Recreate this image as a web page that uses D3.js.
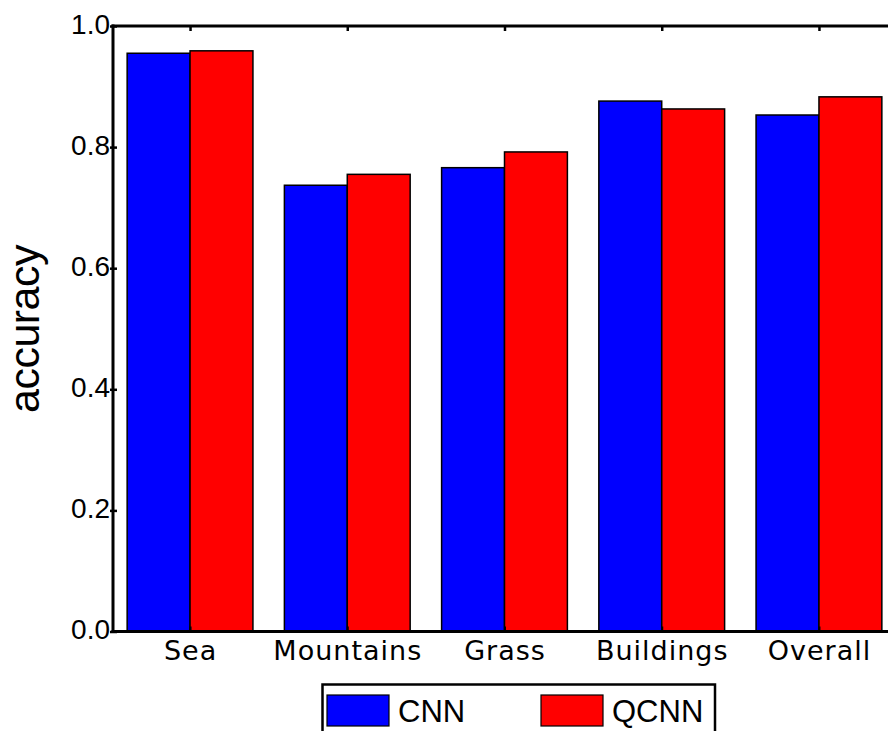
<!DOCTYPE html>
<html>
<head>
<meta charset="utf-8">
<script src="https://cdn.jsdelivr.net/npm/d3@7"></script>
<style>
  html, body { margin: 0; padding: 0; background: #fff; }
  svg { display: block; }
</style>
</head>
<body>
<svg id="chart" width="888" height="731"></svg>
<script>
// Classification accuracy per scene category, CNN vs QCNN
const categories = ["Sea", "Mountains", "Grass", "Buildings", "Overall"];
const cnnAccuracy = [0.955, 0.737, 0.766, 0.876, 0.853];
const qcnnAccuracy = [0.959, 0.755, 0.792, 0.863, 0.883];
const seriesNames = ["CNN", "QCNN"];
const seriesColors = ["#0000ff", "#ff0000"];
const yTickValues = [0.0, 0.2, 0.4, 0.6, 0.8, 1.0];

(function () {
  const svg = d3.select("#chart");

  // plot frame
  const plotLeft = 113, plotTop = 26, plotBottom = 631.5, plotRight = 896;
  const barWidth = 0.4;

  const x = d3.scaleLinear().domain([-0.49, categories.length - 0.51]).range([plotLeft, plotRight]);
  const y = d3.scaleLinear().domain([0, 1]).range([plotBottom, plotTop]);

  const series = [cnnAccuracy, qcnnAccuracy];

  // bars
  const g = svg.append("g");
  series.forEach((vals, s) => {
    g.selectAll(null)
      .data(vals)
      .enter()
      .append("rect")
      .attr("x", (d, i) => x(i + (s - 1) * barWidth))
      .attr("width", (d, i) => x(i + s * barWidth) - x(i + (s - 1) * barWidth))
      .attr("y", d => y(d))
      .attr("height", d => y(0) - y(d))
      .attr("fill", seriesColors[s])
      .attr("stroke", "#000")
      .attr("stroke-width", 1.5);
  });

  // left axis: ticks and labels
  const yAxis = d3.axisLeft(y)
    .tickValues(yTickValues)
    .tickSize(0)
    .tickPadding(0)
    .tickFormat(d3.format(".1f"));

  const yAxisG = svg.append("g").attr("transform", `translate(${plotLeft},0)`).call(yAxis);
  yAxisG.select(".domain").remove();
  yAxisG.selectAll(".tick text")
    .attr("x", -3)
    .attr("dy", null)
    .attr("y", 7)
    .attr("text-anchor", "end")
    .attr("font-family", "'Liberation Sans', Arial, sans-serif")
    .attr("font-size", 28)
    .attr("fill", "#000");
  yAxisG.selectAll(".tick")
    .append("line")
    .attr("x1", -3).attr("x2", 4)
    .attr("stroke", "#000").attr("stroke-width", 2.5);

  // bottom axis: category labels, ticks pointing inward
  const xAxisBottom = d3.axisBottom(x)
    .tickValues(d3.range(categories.length))
    .tickSize(-5)
    .tickPadding(0)
    .tickFormat(i => categories[i]);
  const xb = svg.append("g").attr("transform", `translate(0,${plotBottom})`).call(xAxisBottom);
  xb.select(".domain").remove();
  xb.selectAll(".tick line").attr("stroke", "#000").attr("stroke-width", 2);
  xb.selectAll(".tick text")
    .attr("y", 28.5)
    .attr("dy", null)
    .attr("font-family", "'DejaVu Sans', sans-serif")
    .attr("font-size", 27)
    .attr("letter-spacing", 1)
    .attr("fill", "#000");

  // top axis ticks pointing inward
  const xAxisTop = d3.axisTop(x)
    .tickValues(d3.range(categories.length))
    .tickSize(-5)
    .tickFormat("");
  const xt = svg.append("g").attr("transform", `translate(0,${plotTop})`).call(xAxisTop);
  xt.select(".domain").remove();
  xt.selectAll(".tick line").attr("stroke", "#000").attr("stroke-width", 2.5);

  // spines
  const spine = svg.append("g").attr("stroke", "#000").attr("stroke-width", 3).attr("fill", "none");
  spine.append("line").attr("x1", plotLeft).attr("x2", plotLeft).attr("y1", plotTop - 1.5).attr("y2", plotBottom + 1.5);
  spine.append("line").attr("x1", plotLeft - 1.5).attr("x2", plotRight).attr("y1", plotTop).attr("y2", plotTop);
  spine.append("line").attr("x1", plotLeft - 1.5).attr("x2", plotRight).attr("y1", plotBottom).attr("y2", plotBottom);

  // y label
  svg.append("text")
    .attr("transform", "translate(38.5,329) rotate(-90)")
    .attr("text-anchor", "middle")
    .attr("font-family", "'Liberation Sans', Arial, sans-serif")
    .attr("font-size", 43)
    .attr("letter-spacing", -0.5)
    .attr("fill", "#000")
    .text("accuracy");

  // legend
  const legend = svg.append("g");
  legend.append("rect")
    .attr("x", 322.5).attr("y", 684.5)
    .attr("width", 392.5).attr("height", 70)
    .attr("fill", "#fff")
    .attr("stroke", "#000")
    .attr("stroke-width", 2.5);

  const legendX = [327, 541];
  seriesNames.forEach((name, s) => {
    legend.append("rect")
      .attr("x", legendX[s]).attr("y", 695)
      .attr("width", 62).attr("height", 31)
      .attr("fill", seriesColors[s])
      .attr("stroke", "#000")
      .attr("stroke-width", 1.2);
    legend.append("text")
      .attr("x", legendX[s] + 71).attr("y", 721.5)
      .attr("font-family", "'Liberation Sans', Arial, sans-serif")
      .attr("font-size", 31)
      .attr("fill", "#000")
      .text(name);
  });
})();
</script>
</body>
</html>
